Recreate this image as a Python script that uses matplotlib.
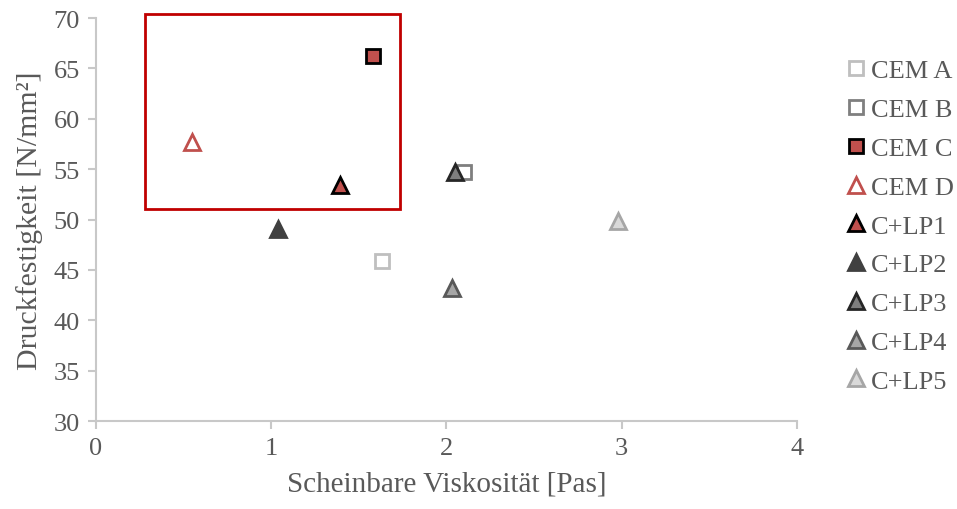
import matplotlib
matplotlib.use("Agg")
import matplotlib.pyplot as plt
from matplotlib.patches import Rectangle

plt.rcParams['font.family'] = ['Liberation Serif', 'DejaVu Serif']

labels = ["CEM A", "CEM B", "CEM C", "CEM D", "C+LP1", "C+LP2", "C+LP3", "C+LP4", "C+LP5"]
viskositaet = [1.63, 2.10, 1.58, 0.55, 1.39, 1.04, 2.05, 2.03, 2.98]
festigkeit = [45.9, 54.7, 66.2, 57.7, 53.4, 49.1, 54.7, 43.2, 49.9]
markers = ["s", "s", "s", "^", "^", "^", "^", "^", "^"]
faces = ["white", "white", "#c0504d", "white", "#c0504d", "#404040", "#7f7f7f", "#a6a6a6", "#d9d9d9"]
edges = ["#bfbfbf", "#7f7f7f", "#000000", "#c0504d", "#000000", "#404040", "#262626", "#595959", "#a6a6a6"]

txt = "#595959"
fig = plt.figure(figsize=(9.57, 5.10), dpi=100)
ax = fig.add_axes([0.1003, 0.1725, 0.7325, 0.7902])

handles = []
for x, y, lab, m, fc, ec in zip(viskositaet, festigkeit, labels, markers, faces, edges):
    ms = 9.5 if m == "s" else 12
    h, = ax.plot([x], [y], linestyle="none", marker=m, markersize=ms,
                 markerfacecolor=fc, markeredgecolor=ec, markeredgewidth=2,
                 label=lab, zorder=3)
    handles.append(h)

ax.set_xlim(0, 4)
ax.set_ylim(30, 70)
ax.set_xticks([0, 1, 2, 3, 4])
ax.set_yticks(range(30, 71, 5))
for s in ["top", "right"]:
    ax.spines[s].set_visible(False)
for s in ["left", "bottom"]:
    ax.spines[s].set_color("#c8c8c8")
    ax.spines[s].set_linewidth(1.5)
ax.tick_params(axis="both", colors="#c8c8c8", labelcolor=txt, labelsize=19,
               length=5.5, width=1.5, direction="out")
ax.tick_params(axis="y", pad=6)
ax.tick_params(axis="x", pad=6)

ax.set_xlabel("Scheinbare Viskosität [Pas]", fontsize=21, color=txt, labelpad=8)
ax.set_ylabel("Druckfestigkeit [N/mm²]", fontsize=21.5, color=txt, labelpad=8)

rect = Rectangle((0.28, 51.05), 1.455, 19.35, fill=False, edgecolor="#c00000",
                 linewidth=2, clip_on=False, zorder=2)
ax.add_patch(rect)

leg = fig.legend(handles=handles, loc="upper left", bbox_to_anchor=(0.87, 0.903),
                 frameon=False, fontsize=19, handletextpad=0.05, labelspacing=0.58,
                 handlelength=1.0, borderaxespad=0)
for t in leg.get_texts():
    t.set_color(txt)

fig.savefig("out.png", dpi=100)
